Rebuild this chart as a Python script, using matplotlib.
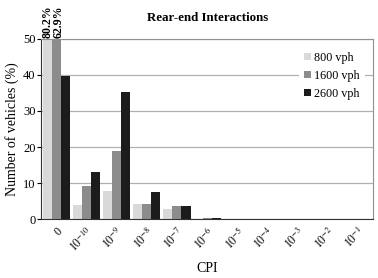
import matplotlib
matplotlib.use("Agg")
import matplotlib.pyplot as plt
import numpy as np

plt.rcParams["font.family"] = ["Liberation Serif", "DejaVu Serif"]
plt.rcParams["mathtext.fontset"] = "stix"

# data
cpi_labels = ["0", r"$10^{-10}$", r"$10^{-9}$", r"$10^{-8}$", r"$10^{-7}$", r"$10^{-6}$",
              r"$10^{-5}$", r"$10^{-4}$", r"$10^{-3}$", r"$10^{-2}$", r"$10^{-1}$"]
vph800 = [80.2, 4.0, 7.8, 4.2, 3.0, 0.0, 0.0, 0.0, 0.0, 0.0, 0.0]
vph1600 = [62.9, 9.2, 18.9, 4.3, 3.8, 0.4, 0.0, 0.0, 0.0, 0.0, 0.0]
vph2600 = [39.6, 13.2, 35.1, 7.5, 3.8, 0.4, 0.2, 0.0, 0.0, 0.0, 0.0]
series_names = ["800 vph", "1600 vph", "2600 vph"]

fig = plt.figure(figsize=(3.78, 2.78), dpi=100)
ax = fig.add_axes([0.1085, 0.211, 0.879, 0.65])

x = np.arange(len(cpi_labels))
w = 0.3
colors = ["#d9d9d9", "#8c8c8c", "#1c1c1c"]

# gridlines first, under the bars
ax.set_axisbelow(True)
ax.yaxis.grid(True, color="#b0b0b0", linewidth=0.9)

for i, (vals, name) in enumerate(zip([vph800, vph1600, vph2600], series_names)):
    ax.bar(x + (i - 1) * w, vals, width=w, color=colors[i], label=name)

ax.set_xlim(-0.5, len(cpi_labels) - 0.5)
ax.set_ylim(0, 50)
ax.set_yticks([0, 10, 20, 30, 40, 50])
ax.tick_params(axis="y", labelsize=9, length=3, width=0.8, pad=1)
ax.tick_params(axis="x", length=0, labelsize=8.5, pad=4)
ax.set_xticks(x)
ax.set_xticklabels(cpi_labels, rotation=45, ha="right", rotation_mode="anchor")

for s in ["top", "right"]:
    ax.spines[s].set_color("#909090")
for s in ["left", "bottom"]:
    ax.spines[s].set_color("#333333")

# clipped bar values
ax.text(-0.29, 50.3, "80.2%", rotation=90, ha="center", va="bottom",
        fontsize=8.6, fontweight="bold", clip_on=False)
ax.text(0.09, 50.3, "62.9%", rotation=90, ha="center", va="bottom",
        fontsize=8.6, fontweight="bold", clip_on=False)

ax.set_title("Rear-end Interactions", fontsize=9.3, fontweight="bold", pad=13)
ax.set_xlabel("CPI", fontsize=10, labelpad=5)
ax.set_ylabel("Number of vehicles (%)", fontsize=10, labelpad=3)

leg = ax.legend(loc="upper right", fontsize=8.7, frameon=True, framealpha=1,
                edgecolor="none", handlelength=0.55, handleheight=0.55,
                handletextpad=0.3, labelspacing=0.5, borderaxespad=0.7,
                fancybox=False)

fig.savefig("out.png", dpi=100)
